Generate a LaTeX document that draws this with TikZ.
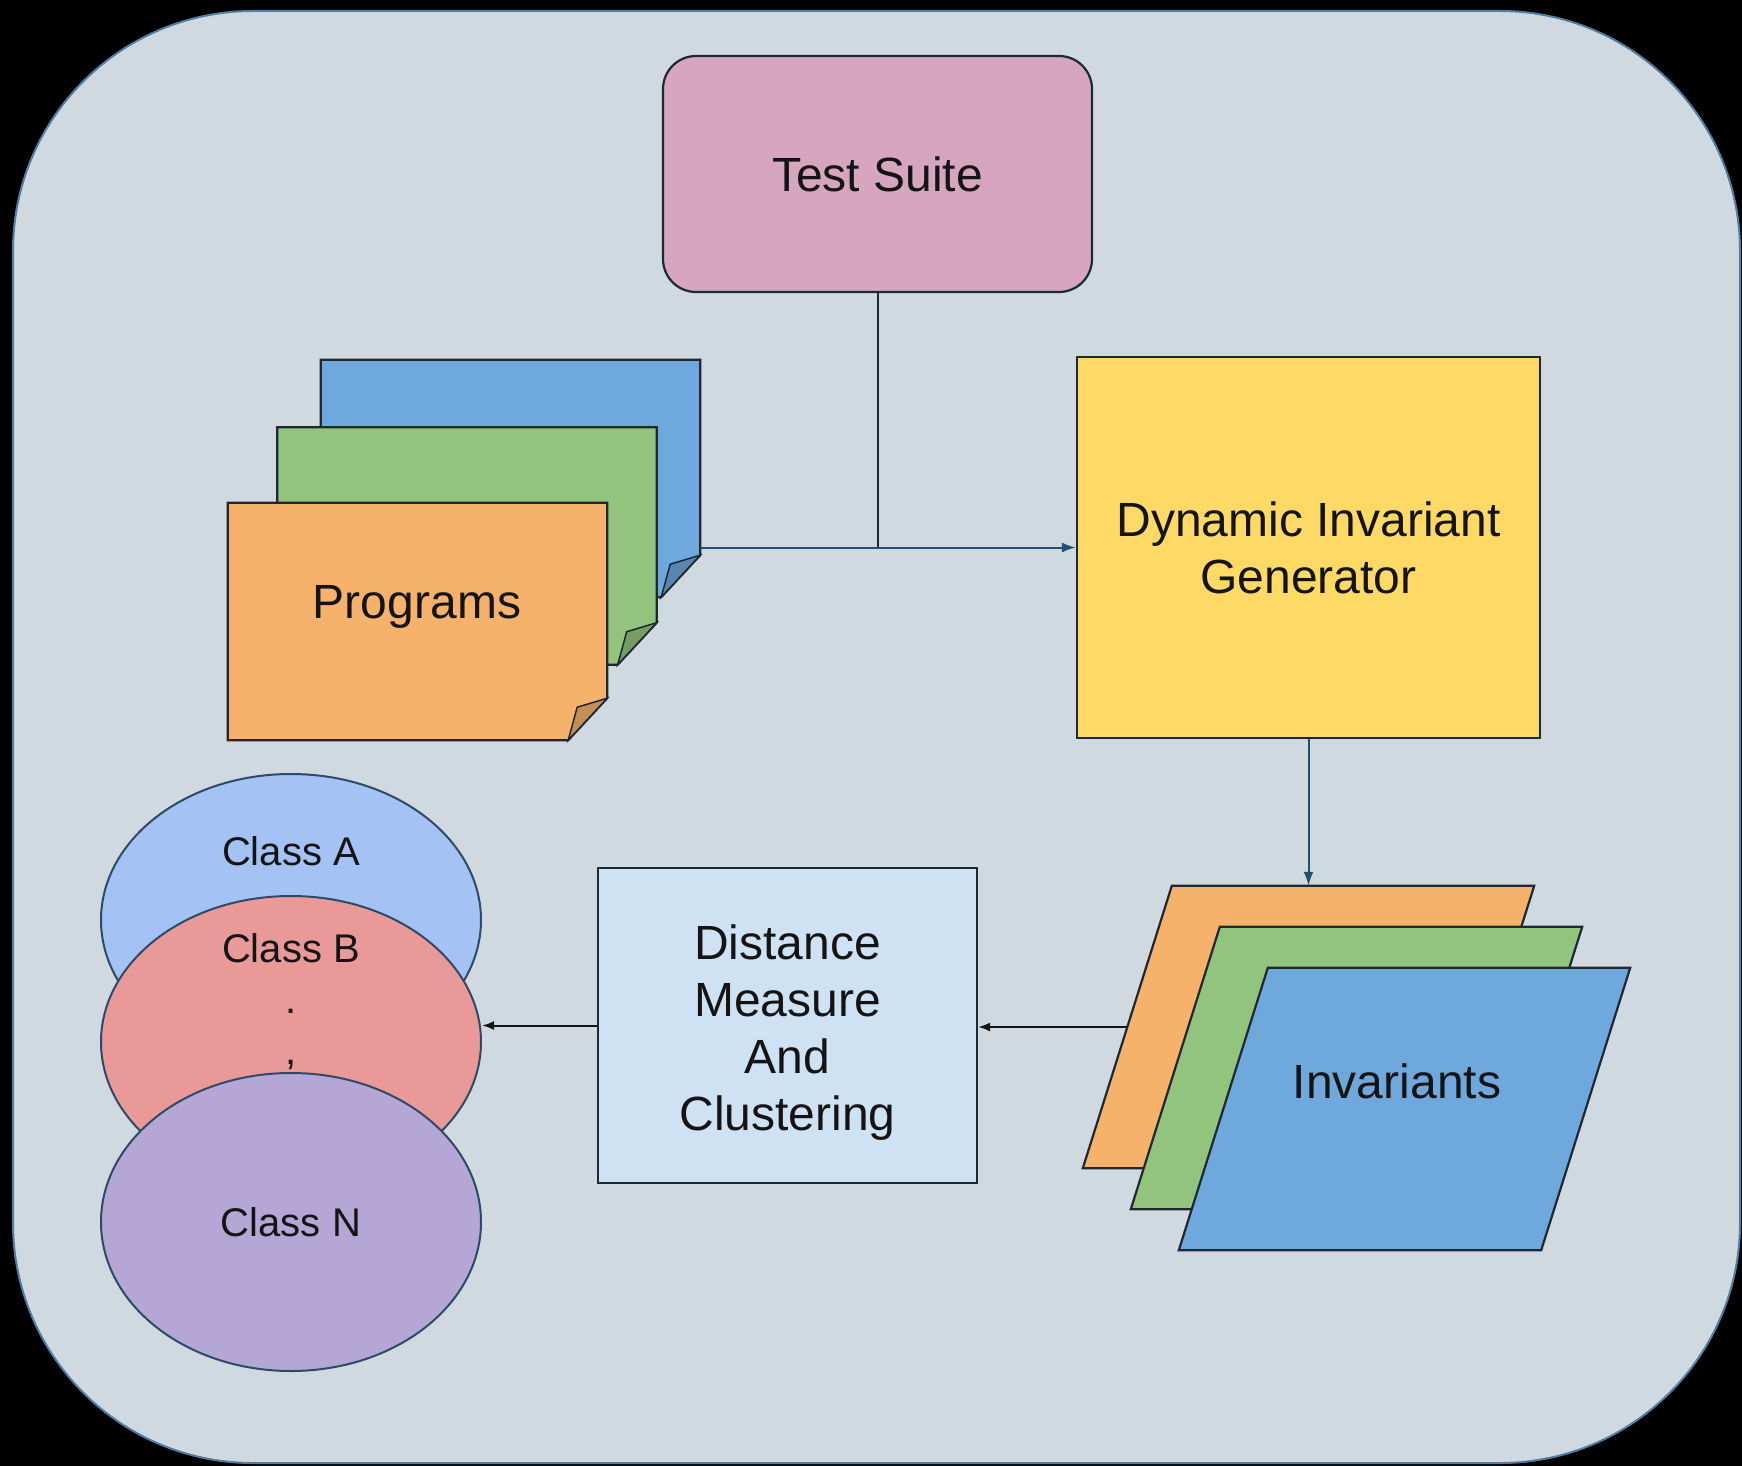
\documentclass[tikz,border=0pt]{standalone}
\usepackage{fontspec}
\setmainfont{Liberation Sans}
\usetikzlibrary{shapes.geometric,arrows.meta}

\definecolor{bgpanel}{HTML}{D0D9E0}
\definecolor{panelline}{HTML}{4F7EA3}
\definecolor{edgec}{HTML}{1E2833}
\definecolor{ellline}{HTML}{2E4A66}
\definecolor{arrowblue}{HTML}{22506F}
\definecolor{txt}{HTML}{141414}
\definecolor{tspink}{HTML}{D5A6BD}
\definecolor{digyellow}{HTML}{FFD966}
\definecolor{distblue}{HTML}{CFE2F3}
\definecolor{pgblue}{HTML}{6FA8DC}
\definecolor{pggreen}{HTML}{93C47D}
\definecolor{pgorange}{HTML}{F6B26B}
\definecolor{colA}{HTML}{A4C2F4}
\definecolor{colB}{HTML}{EA9999}
\definecolor{colN}{HTML}{B4A7D6}

\tikzset{
	box/.style={draw=edgec, line width=2.2pt, inner sep=0pt, align=center, text=txt, font=\fontsize{48}{57}\selectfont},
	lbl/.style={inner sep=0pt, text=txt, align=center, font=\fontsize{48}{57}\selectfont},
	page/.style={inner sep=0pt, minimum width=379pt, minimum height=237pt},
	sheet/.style={inner sep=0pt, minimum width=451pt, minimum height=282pt},
	cls/.style={ellipse, draw=ellline, line width=2pt, inner sep=0pt, minimum width=380pt, minimum height=292pt, text=txt, font=\fontsize{40}{48}\selectfont},
	clslbl/.style={inner sep=0pt, text=txt, font=\fontsize{40}{48}\selectfont},
	flow/.style={line width=2pt, draw=arrowblue, -{Latex[length=14pt,width=10pt]}},
	flowk/.style={line width=2pt, draw=txt, -{Latex[length=12pt,width=9pt]}}
}

\begin{document}
\begin{tikzpicture}[x=1pt,y=-1pt]
	\fill[black] (0,0) rectangle (1742,1466);
	\useasboundingbox (0,0) rectangle (1742,1466);
	\filldraw[fill=bgpanel, draw=panelline, line width=2pt, rounded corners=240pt] (13,11) rectangle (1740,1463);

	\node[box, rounded corners=33pt, fill=tspink, minimum width=429pt, minimum height=236pt] (ts) at (877.5,174) {Test Suite};
	\node[box, fill=digyellow, minimum width=463pt, minimum height=381pt] (dig) at (1308.5,547.5) {Dynamic Invariant\\Generator};
	\node[box, fill=distblue, minimum width=379pt, minimum height=315pt] (dist) at (787.5,1025.5) {};
	\node[lbl] (disttxt) at (787.5,1033) {Distance\\Measure\\And\\Clustering};

	\node[page] (progC) at (510.5,478.5) {};
	\node[page] (progB) at (467,546) {};
	\node[page] (progA) at (417.5,621.5) {};
	\foreach \p/\c in {progC/pgblue, progB/pggreen, progA/pgorange} {
		\filldraw[fill=\c, draw=edgec, line width=2.2pt] (\p.north west) -- (\p.north east) -- ([yshift=42pt]\p.south east) -- ([xshift=-39pt]\p.south east) -- (\p.south west) -- cycle;
		\filldraw[fill=\c!80!black, draw=edgec, line width=1.5pt] ([yshift=42pt]\p.south east) -- ([xshift=-30pt,yshift=33pt]\p.south east) -- ([xshift=-39pt]\p.south east) -- cycle;
	}
	\node[lbl, anchor=base] (progtxt) at (417,618) {Programs};

	\node[sheet] (invA) at (1308.5,1027) {};
	\node[sheet] (invB) at (1356.5,1068) {};
	\node[sheet] (invC) at (1404.5,1109) {};
	\foreach \p/\c in {invA/pgorange, invB/pggreen, invC/pgblue}
		\filldraw[fill=\c, draw=edgec, line width=2.2pt] ([xshift=89pt]\p.north west) -- (\p.north east) -- ([xshift=-89pt]\p.south east) -- (\p.south west) -- cycle;
	\node[lbl, anchor=base] (invtxt) at (1397,1098) {Invariants};

	\node[cls, fill=colA] (clsA) at (291,920) {};
	\node[cls, fill=colB] (clsB) at (291,1042) {};
	\node[cls, fill=colN, minimum height=298pt] (clsN) at (291,1222) {Class N};
	\node[clslbl, anchor=base] (lblA) at (291,865) {Class A};
	\node[clslbl, anchor=base] (lblB) at (291,962) {Class B};
	\node[clslbl, anchor=base] (dotA) at (291,1013) {.};
	\node[clslbl, anchor=base] (dotB) at (291,1064) {,};

	\draw[line width=2pt, draw=edgec] (ts.south) -- (ts.south |- dig.west);
	\draw[flow] (progC.east |- dig.west) -- (dig.west);
	\draw[flow] (dig.south) -- (invA.north);
	\coordinate (invin) at ([xshift=44.5pt]invA.west);
	\draw[flowk] (invin) -- (invin -| dist.east);
	\draw[flowk] (dist.west) -- (dist.west -| clsB.east);
\end{tikzpicture}
\end{document}
